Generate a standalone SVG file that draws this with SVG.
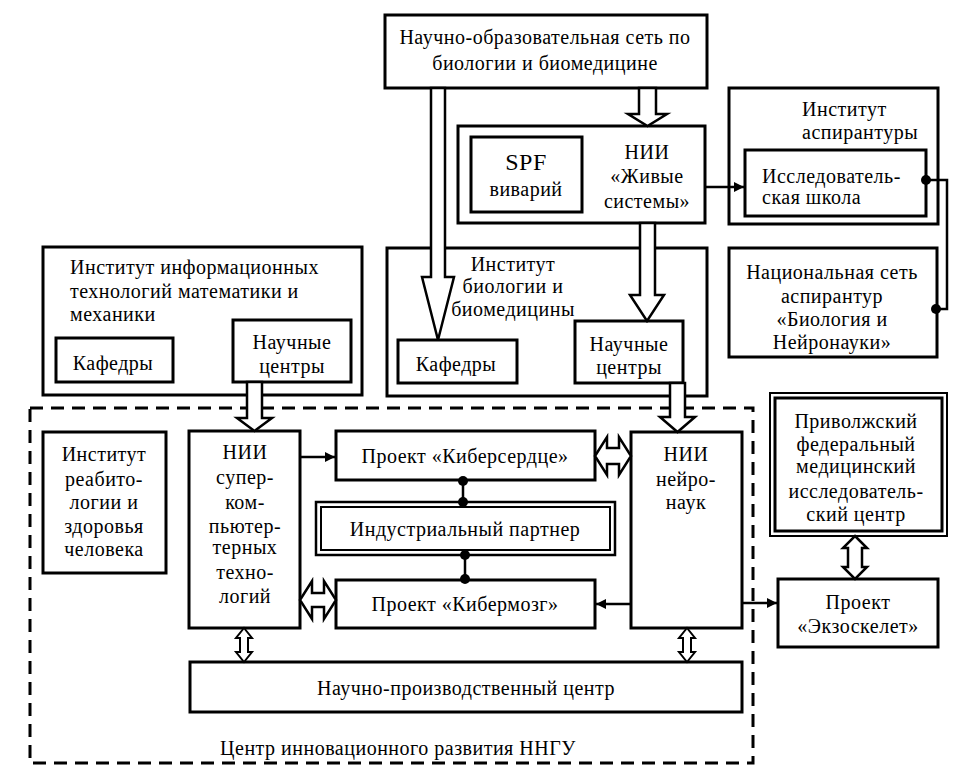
<svg xmlns="http://www.w3.org/2000/svg" width="974" height="780" viewBox="0 0 974 780">
<style>
.b{fill:#fff;stroke:#000;stroke-width:3}
.bi{fill:none;stroke:#000;stroke-width:2}
text{font-family:"Liberation Serif","Times New Roman","DejaVu Serif",serif;font-size:20px;letter-spacing:0.5px;fill:#000}
.c{text-anchor:middle}
.ha{fill:#fff;stroke:#000;stroke-width:2.5;stroke-linejoin:miter}
.ln{fill:none;stroke:#000;stroke-width:2.5}
.dot{fill:#000}
</style>
<defs>
<marker id="ah" viewBox="0 0 10 10" refX="10" refY="5" markerWidth="4" markerHeight="4" orient="auto" markerUnits="strokeWidth">
<path d="M0,0 L10,5 L0,10 Z" fill="#000"/>
</marker>
</defs>
<rect width="974" height="780" fill="#fff"/>

<g id="cir" >
<rect x="30" y="408" width="723" height="355" fill="none" stroke="#000" stroke-width="3" stroke-dasharray="13,8"/>
<text class="c" x="398" y="755">Центр инновационного развития ННГУ</text>
</g>

<g id="net">
<rect class="b" x="385" y="15" width="322" height="73"/>
<text class="c" x="545" y="44">Научно-образовательная сеть по</text>
<text class="c" x="545" y="70">биологии и биомедицине</text>
</g>

<g id="nii-live">
<rect class="b" x="458" y="126" width="247" height="97"/>
<text class="c" x="647" y="159">НИИ</text>
<text class="c" x="647" y="183">«Живые</text>
<text class="c" x="647" y="208">системы»</text>
</g>
<g id="spf">
<rect class="b" x="471" y="137" width="111" height="75"/>
<text class="c" x="526" y="170" style="font-size:24px">SPF</text>
<text class="c" x="526" y="196">виварий</text>
</g>

<g id="asp">
<rect class="b" x="729" y="88" width="209" height="136"/>
<text x="802" y="116">Институт</text>
<text x="802" y="139">аспирантуры</text>
</g>
<g id="school">
<rect class="b" x="745" y="150" width="181" height="66"/>
<text x="762" y="183">Исследователь-</text>
<text x="762" y="204">ская школа</text>
</g>

<g id="natnet">
<rect class="b" x="729" y="248" width="208" height="109"/>
<text class="c" x="832" y="279">Национальная сеть</text>
<text class="c" x="832" y="303">аспирантур</text>
<text class="c" x="832" y="326">«Биология и</text>
<text class="c" x="832" y="349">Нейронауки»</text>
</g>

<g id="it">
<rect class="b" x="43" y="247" width="319" height="148"/>
<text x="70" y="274">Институт информационных</text>
<text x="70" y="298">технологий математики и</text>
<text x="70" y="321">механики</text>
</g>
<g id="it-kaf">
<rect class="b" x="56" y="338" width="117" height="44"/>
<text class="c" x="113" y="370">Кафедры</text>
</g>
<g id="it-nc">
<rect class="b" x="233" y="320" width="118" height="62"/>
<text class="c" x="292" y="349">Научные</text>
<text class="c" x="292" y="373">центры</text>
</g>

<g id="bio">
<rect class="b" x="387" y="248" width="320" height="148"/>
<text class="c" x="513" y="271">Институт</text>
<text class="c" x="513" y="293">биологии и</text>
<text class="c" x="513" y="316">биомедицины</text>
</g>
<g id="bio-kaf">
<rect class="b" x="398" y="340" width="119" height="43"/>
<text class="c" x="456" y="371">Кафедры</text>
</g>
<g id="bio-nc">
<rect class="b" x="575" y="321" width="108" height="62"/>
<text class="c" x="629" y="351">Научные</text>
<text class="c" x="629" y="374">центры</text>
</g>

<g id="rehab">
<rect class="b" x="43" y="432" width="123" height="141"/>
<text class="c" x="104" y="461">Институт</text>
<text class="c" x="104" y="486">реабито-</text>
<text class="c" x="104" y="509">логии и</text>
<text class="c" x="104" y="533">здоровья</text>
<text class="c" x="104" y="556">человека</text>
</g>

<g id="super">
<rect class="b" x="189" y="431" width="111" height="197"/>
<text class="c" x="245" y="459">НИИ</text>
<text class="c" x="245" y="484">супер-</text>
<text class="c" x="245" y="509">ком-</text>
<text class="c" x="245" y="533">пьютер-</text>
<text class="c" x="245" y="554">терных</text>
<text class="c" x="245" y="579">техно-</text>
<text class="c" x="245" y="603">логий</text>
</g>

<g id="heart">
<rect class="b" x="336" y="431" width="259" height="49"/>
<text class="c" x="465" y="463">Проект «Киберсердце»</text>
</g>
<g id="partner">
<rect class="b" x="316" y="502" width="299" height="53" style="stroke-width:2.5"/>
<rect class="bi" x="321" y="507" width="289" height="43"/>
<text class="c" x="465" y="536">Индустриальный партнер</text>
</g>
<g id="brain">
<rect class="b" x="336" y="580" width="259" height="48"/>
<text class="c" x="465" y="611">Проект «Кибермозг»</text>
</g>

<g id="neuro">
<rect class="b" x="631" y="432" width="111" height="196"/>
<text class="c" x="686" y="461">НИИ</text>
<text class="c" x="686" y="486">нейро-</text>
<text class="c" x="686" y="509">наук</text>
</g>

<g id="npc">
<rect class="b" x="190" y="662" width="552" height="50"/>
<text class="c" x="466" y="695">Научно-производственный центр</text>
</g>

<g id="pfmic">
<rect class="b" x="770" y="393" width="177" height="143" style="stroke-width:2"/>
<rect class="bi" x="775" y="398" width="167" height="133" style="stroke-width:3"/>
<text class="c" x="856" y="428">Приволжский</text>
<text class="c" x="856" y="451">федеральный</text>
<text class="c" x="856" y="473">медицинский</text>
<text class="c" x="856" y="498">исследователь-</text>
<text class="c" x="856" y="521">ский центр</text>
</g>

<g id="exo">
<rect class="b" x="778" y="579" width="160" height="68"/>
<text class="c" x="858" y="609">Проект</text>
<text class="c" x="858" y="633">«Экзоскелет»</text>
</g>

<g id="connectors">
<polygon class="ha" points="639,88 639,114 628,114 647.5,126 667,114 656,114 656,88"/>
<polygon class="ha" points="431,88 431,277 422,277 438,340 454,277 445,277 445,88"/>
<polygon class="ha" points="640,223 640,295 630,295 647,321 664,295 655,295 655,223"/>
<polygon class="ha" points="670,383 670,417 660,417 677.5,432 695,417 685,417 685,383"/>
<polygon class="ha" points="247,382 247,418 237,418 254.5,431 272,418 262,418 262,382"/>

<polygon class="ha" points="595,456 607,437 607,448 619,448 619,437 631,456 619,475 619,464 607,464 607,475"/>
<polygon class="ha" points="300,600 312,581 312,593 324,593 324,581 336,600 324,619 324,607 312,607 312,619"/>

<polygon class="ha" points="855,536 867,548 862,548 862,567 867,567 855,579 843,567 848,567 848,548 843,548"/>
<polygon class="ha" style="stroke-width:2" points="244,628 252,638 248,638 248,652 252,652 244,662 236,652 240,652 240,638 236,638"/>
<polygon class="ha" style="stroke-width:2" points="687,628 695,638 691,638 691,652 695,652 687,662 679,652 683,652 683,638 679,638"/>

<line class="ln" x1="300" y1="457" x2="335" y2="457" marker-end="url(#ah)"/>
<line class="ln" x1="705" y1="187" x2="744" y2="187" marker-end="url(#ah)"/>
<line class="ln" x1="631" y1="604" x2="596" y2="604" marker-end="url(#ah)"/>
<line class="ln" x1="742" y1="603" x2="777" y2="603" marker-end="url(#ah)"/>

<line class="ln" x1="463" y1="480" x2="463" y2="502"/>
<circle class="dot" cx="463" cy="481" r="5"/>
<circle class="dot" cx="463" cy="502" r="5"/>
<line class="ln" x1="465" y1="555" x2="465" y2="580"/>
<circle class="dot" cx="465" cy="555" r="5"/>
<circle class="dot" cx="465" cy="579" r="5"/>
<polyline class="ln" points="926,180 947,180 947,309 936,309"/>
<circle class="dot" cx="926" cy="180" r="5"/>
<circle class="dot" cx="936" cy="309" r="5"/>
</g>
</svg>
